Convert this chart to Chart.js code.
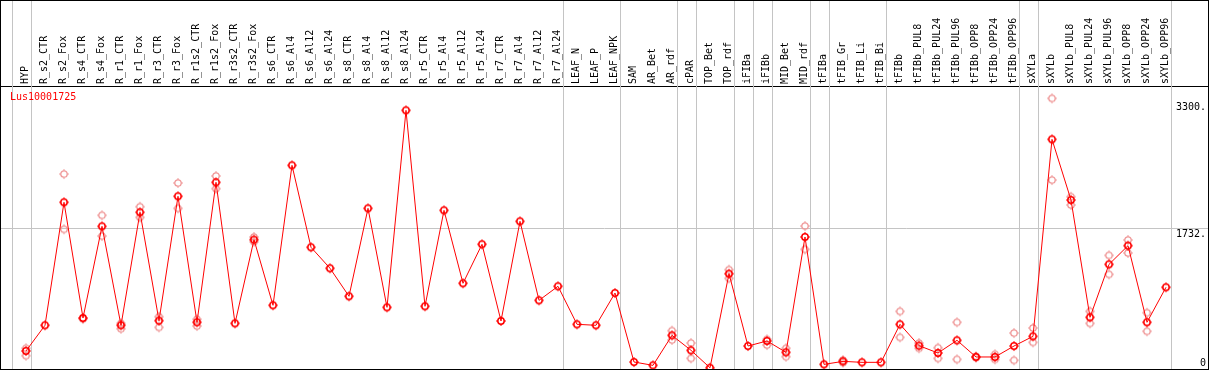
<!DOCTYPE html>
<html><head><meta charset="utf-8">
<script src="https://cdn.jsdelivr.net/npm/chart.js@4.4.1/dist/chart.umd.min.js"></script>
<style>
html,body{margin:0;padding:0;background:#fff;}
#wrap{width:1207px;height:368px;border:1px solid #000;position:relative;background:#fff;}
canvas{display:block;}
</style></head><body>
<div id="wrap"><canvas id="c" width="1207" height="368"></canvas></div>
<script>
const categories = ['HYP','R_s2_CTR','R_s2_Fox','R_s4_CTR','R_s4_Fox','R_r1_CTR','R_r1_Fox','R_r3_CTR','R_r3_Fox','R_r1s2_CTR','R_r1s2_Fox','R_r3s2_CTR','R_r3s2_Fox','R_s6_CTR','R_s6_Al4','R_s6_Al12','R_s6_Al24','R_s8_CTR','R_s8_Al4','R_s8_Al12','R_s8_Al24','R_r5_CTR','R_r5_Al4','R_r5_Al12','R_r5_Al24','R_r7_CTR','R_r7_Al4','R_r7_Al12','R_r7_Al24','LEAF_N','LEAF_P','LEAF_NPK','SAM','AR_Bet','AR_rdf','cPAR','TOP_Bet','TOP_rdf','iFIBa','iFIBb','MID_Bet','MID_rdf','tFIBa','tFIB_Gr','tFIB_Li','tFIB_Bi','tFIBb','tFIBb_PUL8','tFIBb_PUL24','tFIBb_PUL96','tFIBb_OPP8','tFIBb_OPP24','tFIBb_OPP96','sXYLa','sXYLb','sXYLb_PUL8','sXYLb_PUL24','sXYLb_PUL96','sXYLb_OPP8','sXYLb_OPP24','sXYLb_OPP96'];
const seriesName = 'Lus10001725';
const meanValues = [222,538,2052,628,1756,538,1929,595,2126,575,2298,562,1592,784,2507,1498,1240,895,1978,759,3184,772,1953,1055,1535,591,1818,845,1018,550,538,935,86,45,414,230,15,1173,283,345,205,1625,57,94,82,82,550,287,197,353,148,148,283,402,2827,2080,636,1288,1518,575,1006];
const replicateA = [255,null,2400,615,1892,562,1998,644,2290,612,2376,null,1625,null,null,null,null,null,null,null,null,null,null,null,null,null,null,null,null,null,null,null,null,null,472,320,null,1223,null,365,255,1760,null,110,null,null,710,320,262,575,155,181,443,505,3332,2121,710,1399,1588,693,null];
const replicateB = [164,null,1720,null,1637,496,1867,513,1978,529,2220,null,1567,null,null,null,null,null,null,null,null,null,null,null,null,null,null,null,null,null,null,null,null,null,357,131,null,1116,null,295,152,1473,null,80,null,null,390,255,131,119,140,119,107,328,2326,2019,562,1165,1428,464,null];
const yTickValues = [0, 1732, 3300];
const yTickLabels = ['0', '1732.', '3300.'];
const groupEnds = [-1, 0, 28, 31, 34, 35, 37, 38, 39, 41, 42, 45, 52, 53, 60];

const X_MIN = -25/19, X_MAX = X_MIN + 1207/19;
const Y_MAX = 283 / (140.7/1732);
const MONO = 'DejaVu Sans Mono';

function marker(color, lw) {
  const c = document.createElement('canvas'); c.width = 12; c.height = 12;
  const g = c.getContext('2d');
  g.strokeStyle = color; g.fillStyle = color; g.lineWidth = lw;
  g.beginPath(); g.arc(6, 6, 3.2, 0, Math.PI*2); g.stroke();
  g.fillRect(5.5, 1, 1, 2); g.fillRect(5.5, 9, 1, 2);
  g.fillRect(1, 5.5, 2, 1); g.fillRect(9, 5.5, 2, 1);
  return c;
}
const mainMarker = marker('#ff0000', 1.5);
const faintMarker = marker('#f09a9a', 1.3);

const pts = arr => arr.map((v, i) => ({x: i, y: v}));

const decor = {
  id: 'decor',
  beforeDatasetsDraw(chart) {
    const {ctx, chartArea, scales} = chart;
    ctx.save();
    ctx.strokeStyle = '#c4c4c4'; ctx.lineWidth = 1;
    groupEnds.forEach(g => {
      const px = Math.round(scales.x.getPixelForValue(g) + 4.5) + 0.5;
      ctx.beginPath(); ctx.moveTo(px, 0); ctx.lineTo(px, chartArea.bottom); ctx.stroke();
    });
    ctx.fillStyle = '#ff0000';
    ctx.font = '10px "' + MONO + '"';
    ctx.textBaseline = 'middle'; ctx.textAlign = 'left';
    ctx.fillText(seriesName, chartArea.left + 9, chartArea.top + 11);
    ctx.restore();
  }
};

new Chart(document.getElementById('c'), {
  type: 'line',
  data: {
    datasets: [
      {label: seriesName, data: pts(meanValues), borderColor: '#ff0000', borderWidth: 1, pointStyle: mainMarker, tension: 0, fill: false},
      {label: 'repA', data: pts(replicateA), showLine: false, pointStyle: faintMarker},
      {label: 'repB', data: pts(replicateB), showLine: false, pointStyle: faintMarker}
    ]
  },
  options: {
    responsive: false, animation: false,
    layout: {padding: 0, autoPadding: false},
    plugins: {legend: {display: false}, tooltip: {enabled: false}},
    scales: {
      x: {
        type: 'linear', position: 'top', min: X_MIN, max: X_MAX,
        afterBuildTicks: s => { s.ticks = categories.map((_, i) => ({value: i})); },
        afterFit: s => { s.height = 85; s.paddingLeft = 0; s.paddingRight = 0; },
        ticks: {autoSkip: false, minRotation: 90, maxRotation: 90, padding: 2, color: '#000',
          font: {family: MONO, size: 10, lineHeight: '1px'}, callback: v => categories[Math.round(v)] ?? ''},
        grid: {display: false, drawTicks: false},
        border: {display: true, color: '#000', width: 1}
      },
      y: {
        type: 'linear', position: 'right', min: 0, max: Y_MAX,
        afterBuildTicks: s => { s.ticks = yTickValues.map(v => ({value: v})); },
        afterFit: s => { s.width = 0; s.paddingTop = 0; s.paddingBottom = 0; },
        ticks: {mirror: true, padding: -2, color: '#000', font: {family: MONO, size: 10, lineHeight: 1.2},
          callback: v => { const k = yTickValues.indexOf(v); const t = yTickLabels[k]; return v === 0 ? [t, ''] : ['', t]; }},
        grid: {drawTicks: false, color: c => (c.tick && c.tick.value === 1732) ? '#c4c4c4' : 'rgba(0,0,0,0)'},
        border: {display: false}
      }
    }
  },
  plugins: [decor]
});
</script>
</body></html>
